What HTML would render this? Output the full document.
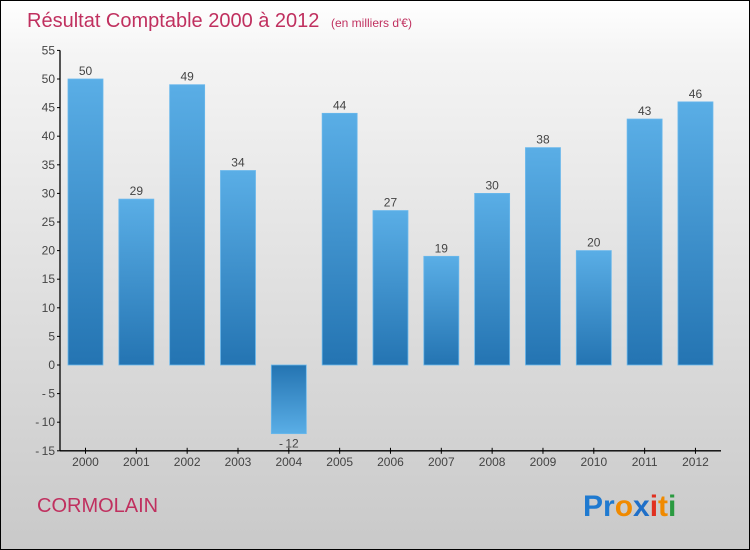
<!DOCTYPE html>
<html><head><meta charset="utf-8"><style>
html,body{margin:0;padding:0}
body{width:750px;height:550px;overflow:hidden;font-family:"Liberation Sans",sans-serif}
#wrap{position:absolute;left:0;top:0;width:748px;height:548px;border:1px solid #000;background:linear-gradient(#ffffff,#f4f4f4 10%,#c9c9c9)}
</style></head><body>
<div id="wrap">
<svg id="svg" width="748" height="548" viewBox="1 1 748 548" style="position:absolute;left:0;top:0">
<defs>
<linearGradient id="gpos" x1="0" y1="0" x2="0" y2="1"><stop offset="0" stop-color="#5aaee6"/><stop offset="1" stop-color="#2474b2"/></linearGradient>
<linearGradient id="gneg" x1="0" y1="0" x2="0" y2="1"><stop offset="0" stop-color="#2474b2"/><stop offset="1" stop-color="#5aaee6"/></linearGradient>
</defs>
<text x="27" y="27" font-size="20" fill="#c0305f">Résultat Comptable 2000 à 2012 <tspan font-size="12" dx="6">(en milliers d'€)</tspan></text>
<text x="37" y="512" font-size="20" fill="#c0305f">CORMOLAIN</text>
<text x="583" y="516" font-size="30" font-weight="bold"><tspan fill="#1f7ad0">Pr</tspan><tspan fill="#f08a00">o</tspan><tspan fill="#1f6fc8">x</tspan><tspan fill="#e03020">i</tspan><tspan fill="#f08a00">t</tspan><tspan fill="#2a9a40">i</tspan></text>
<g id="axes"></g>
<g id="bars"></g>
</svg>
</div>
<script>
const years=["2000","2001","2002","2003","2004","2005","2006","2007","2008","2009","2010","2011","2012"];
const values=[50,29,49,34,-12,44,27,19,30,38,20,43,46];
const yTicks=[55,50,45,40,35,30,25,20,15,10,5,0,-5,-10,-15];
const NS="http://www.w3.org/2000/svg";
const y0=365,pxPer=5.72,x0=85.5,step=50.83,bw=35;
function yS(v){return y0-v*pxPer;}
function xS(i){return x0+i*step;}
function mk(t,a,p){const e=document.createElementNS(NS,t);for(const k in a)e.setAttribute(k,a[k]);p.appendChild(e);return e;}
const ax=document.getElementById('axes'),bg=document.getElementById('bars');
const yl=mk('line',{x1:60,y1:yS(55),x2:60,y2:yS(-15),stroke:'#000','stroke-width':1.3},ax);


const xl=mk('line',{x1:60,y1:yS(-15),x2:721,y2:yS(-15),stroke:'#000','stroke-width':1.3},ax);


yTicks.forEach(v=>{
  mk('line',{x1:57,y1:yS(v),x2:60,y2:yS(v),stroke:'#000'},ax);
  const t=mk('text',{x:55,y:yS(v)+4,'font-size':12,fill:'#444','text-anchor':'end'},ax);
  t.textContent=String(v).replace('-','-\u2009');
  
  
});
years.forEach((yr,i)=>{
  const x=xS(i),v=values[i];
  mk('line',{x1:x,y1:yS(-15)-3,x2:x,y2:yS(-15)+3,stroke:'#000'},ax);
  const t=mk('text',{x:x,y:466,'font-size':12,fill:'#444','text-anchor':'middle'},ax);
  t.textContent=yr;
  
  
  const top=Math.min(yS(v),y0),h=Math.abs(yS(v)-y0);
  const r=mk('rect',{x:x-bw/2,y:top,width:bw,height:h,fill:v>=0?'url(#gpos)':'url(#gneg)',stroke:'#6ab8ec','stroke-width':0.8},bg);
  
  
  const l=mk('text',{x:x,y:v>=0?yS(v)-4:yS(v)+14,'font-size':12,fill:'#444','text-anchor':'middle'},bg);
  l.textContent=String(v).replace('-','-\u2009');
  
  
});
</script>
</body></html>
